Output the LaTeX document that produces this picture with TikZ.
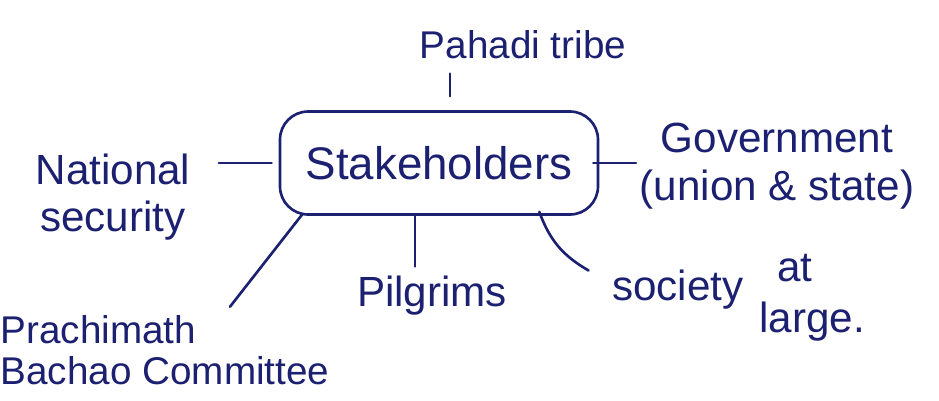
\documentclass[tikz,border=0pt]{standalone}
\usepackage{fontspec}
\setmainfont{Liberation Sans}
\usepackage{tikz}
\usetikzlibrary{positioning, calc}
\definecolor{inkblue}{RGB}{28,32,112}
\tikzset{
  hub/.style={rectangle, draw=inkblue, rounded corners=16pt,
    minimum width=6.36cm, minimum height=2.06cm, line width=1.5pt,
    text=inkblue, font=\fontsize{26}{30}\selectfont},
  party/.style={text=inkblue, align=center, inner sep=2pt,
    font=\fontsize{24}{27}\selectfont},
  line/.style={line width=1.5pt, color=inkblue, line cap=round}
}
\begin{document}
\begin{tikzpicture}[x=0.2mm, y=-0.2mm]
  \useasboundingbox (0,0) rectangle (939,400);

  % Central box
  \node[hub] (hub) at (439,163) {Stakeholders};

  % Stakeholder groups
  \node[party, font=\fontsize{22}{27}\selectfont] (tribe) at (523,45) {Pahadi tribe};
  \node[party] (natl) at (113,197) {National\\security};
  \node[party] (gov) at (777,166) {Government\\(union \& state)};
  \node[party, align=left, font=\fontsize{22}{23}\selectfont] (prach) at (165,350) {Prachimath\\Bachao Committee};
  \node[party] (pil) at (432,296) {Pilgrims};
  \node[party] (soc) at (678,290) {society};
  \node[party] (socat) at (795,268) {at};
  \node[party] (socl) at (812,322) {large.};

  % Connections
  \draw[line, shorten >=6pt] ($(hub.north)+(11,-14)$) coordinate (tr) -- (tr |- tribe.south);
  \draw[line, shorten <=14pt, shorten >=4pt] (natl.north east |- hub.west) -- (hub.west);
  \draw[line] ($(hub.east)+(-6,0)$) -- (gov.west |- hub.east);
  \draw[line] ($(hub.south west)+(24,-2)$) -- ($(prach.north)+(65,-5)$);
  \draw[line] ($(pil.north |- hub.south)+(-17,0)$) -- ($(pil.north)+(-17,-6)$);
  \draw[line] ($(hub.south east)+(-60,-4)$) to[bend right=20] ($(soc.north west)+(-20,4)$);
\end{tikzpicture}
\end{document}
